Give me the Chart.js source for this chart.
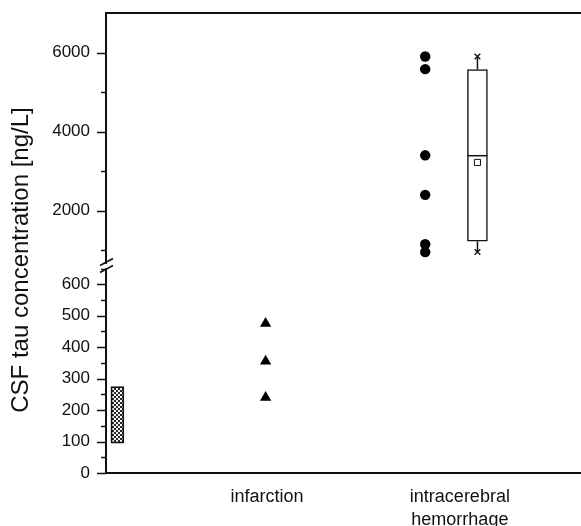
<!DOCTYPE html>
<html>
<head>
<meta charset="utf-8">
<script src="https://cdn.jsdelivr.net/npm/chart.js@4/dist/chart.umd.min.js"></script>
<style>
  html, body { margin: 0; padding: 0; background: #fff; }
  #wrap { width: 581px; height: 526px; }
</style>
</head>
<body>
<div id="wrap"><canvas id="c" width="581" height="526"></canvas></div>
<script>
// ---- data ---------------------------------------------------------------
// group positions along x (arbitrary units, 0..10)
const groupX      = [0.24, 3.36, 6.72, 7.82];   // control, infarction, ICH dots, ICH box
const labelX      = [3.39, 7.45];
const groupLabels = [['infarction'], ['intracerebral', 'hemorrhage']];

// CSF tau [ng/L]
const controlRange = [95, 275];
const infarction   = [475, 355, 240];
const hemorrhage   = [5900, 5580, 3400, 2400, 1150, 950];
// box summary for the hemorrhage group
const ichWhisker = [955, 5900];
const ichBox     = [1225, 5570];
const ichMedian  = 3390;
const ichMean    = 3220;

// y axis ticks (two segments, broken axis)
const lowTicks   = [0, 50, 100, 150, 200, 250, 300, 350, 400, 450, 500, 550, 600, 650];
const lowLabels  = [0, 100, 200, 300, 400, 500, 600];
const highTicks  = [1000, 2000, 3000, 4000, 5000, 6000];
const highLabels = [2000, 4000, 6000];

const yTitle = 'CSF tau concentration [ng/L]';

// ---- helpers ------------------------------------------------------------
Chart.defaults.font.family = '"Liberation Sans", Arial, Helvetica, sans-serif';
Chart.defaults.color = '#111';

function stipple() {
  const p = document.createElement('canvas');
  p.width = 4; p.height = 4;
  const g = p.getContext('2d');
  g.fillStyle = '#2a2a2a';
  g.fillRect(0, 0, 4, 4);
  g.fillStyle = '#f2f2f2';
  g.fillRect(0, 0, 2, 2);
  g.fillRect(2, 2, 2, 2);
  return document.getElementById('c').getContext('2d').createPattern(p, 'repeat');
}

const pts = (x, ys) => ys.map(y => ({ x, y }));

// no extra padding around the plot area from tick labels
function fitY(s) {
  s.width = 106;
  s.paddingTop = 0; s.paddingBottom = 0;
}

// ticks, axis break and the rotated axis title
const axisExtras = {
  id: 'axisExtras',
  afterDraw(chart) {
    const ctx = chart.ctx;
    const left = chart.chartArea.left;
    ctx.save();
    ctx.strokeStyle = '#111';
    ctx.lineWidth = 1.5;
    [['yLow', lowTicks, lowLabels], ['yHigh', highTicks, highLabels]].forEach(([id, all, major]) => {
      const s = chart.scales[id];
      all.forEach(v => {
        if (v < s.min || v > s.max) return;
        const y = Math.round(s.getPixelForValue(v)) + 0.5;
        const len = major.includes(v) ? 9 : 5;
        ctx.beginPath();
        ctx.moveTo(left - len, y);
        ctx.lineTo(left, y);
        ctx.stroke();
      });
    });

    // break marks
    const b = chart.scales.yHigh.bottom;
    ctx.fillStyle = '#fff';
    ctx.fillRect(left - 2, b - 2, 4, 4);
    ctx.lineWidth = 1.6;
    [-4, 3].forEach(o => {
      ctx.beginPath();
      ctx.moveTo(left - 6, b + o + 3.5);
      ctx.lineTo(left + 7, b + o - 3.5);
      ctx.stroke();
    });

    // y title
    ctx.translate(21, 260);
    ctx.rotate(-Math.PI / 2);
    ctx.fillStyle = '#111';
    ctx.font = '24px "Liberation Sans", Arial, sans-serif';
    ctx.textAlign = 'center';
    ctx.textBaseline = 'middle';
    ctx.fillText(yTitle, 0, 0);
    ctx.restore();
  }
};

// ---- chart --------------------------------------------------------------
new Chart(document.getElementById('c'), {
  type: 'scatter',
  data: {
    datasets: [
      {
        type: 'bar',
        data: [{ x: groupX[0], y: controlRange }],
        yAxisID: 'yLow',
        backgroundColor: stipple(),
        borderColor: '#111',
        borderWidth: 1.8,
        borderSkipped: false,
        barThickness: 13,
        grouped: false,
      },
      {
        data: pts(groupX[1], infarction),
        yAxisID: 'yLow',
        pointStyle: 'triangle',
        pointRadius: 6.5,
        backgroundColor: '#000',
        borderColor: '#000',
        borderWidth: 0,
      },
      {
        data: pts(groupX[2], hemorrhage),
        yAxisID: 'yHigh',
        pointStyle: 'circle',
        pointRadius: 5.2,
        backgroundColor: '#000',
        borderColor: '#000',
        borderWidth: 0,
      },
      {
        // upper whisker
        data: pts(groupX[3], [ichBox[1], ichWhisker[1]]),
        yAxisID: 'yHigh',
        showLine: true,
        pointRadius: 0,
        borderColor: '#111',
        borderWidth: 1.5,
      },
      {
        // lower whisker
        data: pts(groupX[3], [ichWhisker[0], ichBox[0]]),
        yAxisID: 'yHigh',
        showLine: true,
        pointRadius: 0,
        borderColor: '#111',
        borderWidth: 1.5,
      },
      {
        type: 'bar',
        data: [{ x: groupX[3], y: ichBox }],
        yAxisID: 'yHigh',
        backgroundColor: '#fff',
        borderColor: '#111',
        borderWidth: 1.5,
        borderSkipped: false,
        barThickness: 20,
        grouped: false,
        order: 2,
      },
      {
        data: pts(groupX[3], [ichMedian]),
        yAxisID: 'yHigh',
        pointStyle: 'line',
        pointRadius: 10,
        borderColor: '#111',
        borderWidth: 1.5,
        order: -1,
      },
      {
        data: pts(groupX[3], [ichMean]),
        yAxisID: 'yHigh',
        pointStyle: 'rect',
        pointRadius: 4.3,
        backgroundColor: '#fff',
        borderColor: '#111',
        borderWidth: 1,
        order: -1,
      },
      {
        data: pts(groupX[3], ichWhisker),
        yAxisID: 'yHigh',
        pointStyle: 'crossRot',
        pointRadius: 4,
        borderColor: '#111',
        borderWidth: 1.4,
        order: -1,
      },
    ]
  },
  options: {
    responsive: false,
    devicePixelRatio: 1,
    animation: false,
    layout: { padding: 0, autoPadding: false },
    plugins: { legend: { display: false }, tooltip: { enabled: false } },
    scales: {
      x: {
        type: 'linear',
        position: 'bottom',
        min: 0, max: 10,
        offset: false,
        grid: { display: false, drawTicks: false },
        border: { display: true, color: '#111', width: 2 },
        afterBuildTicks: s => { s.ticks = labelX.map(v => ({ value: v })); },
        afterFit: s => { s.height = 53; s.paddingLeft = 0; s.paddingRight = 0; },
        ticks: {
          padding: 13,
          font: { size: 18, lineHeight: 1.25 },
          maxRotation: 0,
          autoSkip: false,
          callback: (v, i) => groupLabels[i],
        },
      },
      xTop: {
        type: 'linear',
        position: 'top',
        min: 0, max: 10,
        grid: { display: false, drawTicks: false },
        border: { display: true, color: '#111', width: 2 },
        ticks: { display: false },
        afterFit: s => { s.height = 13; s.paddingLeft = 0; s.paddingRight = 0; },
      },
      yLow: {
        type: 'linear',
        position: 'left',
        stack: 'v',
        stackWeight: 207,
        min: 0, max: 658,
        grid: { display: false, drawTicks: false },
        border: { display: true, color: '#111', width: 2 },
        afterBuildTicks: s => { s.ticks = lowLabels.map(v => ({ value: v })); },
        afterFit: fitY,
        ticks: { padding: 16, font: { size: 17 }, autoSkip: false, callback: v => String(v) },
      },
      yHigh: {
        type: 'linear',
        position: 'left',
        stack: 'v',
        stackWeight: 253,
        min: 600, max: 7000,
        grid: { display: false, drawTicks: false },
        border: { display: true, color: '#111', width: 2 },
        afterBuildTicks: s => { s.ticks = highLabels.map(v => ({ value: v })); },
        afterFit: fitY,
        ticks: { padding: 16, font: { size: 17 }, autoSkip: false, callback: v => String(v) },
      },
    }
  },
  plugins: [axisExtras]
});
</script>
</body>
</html>
